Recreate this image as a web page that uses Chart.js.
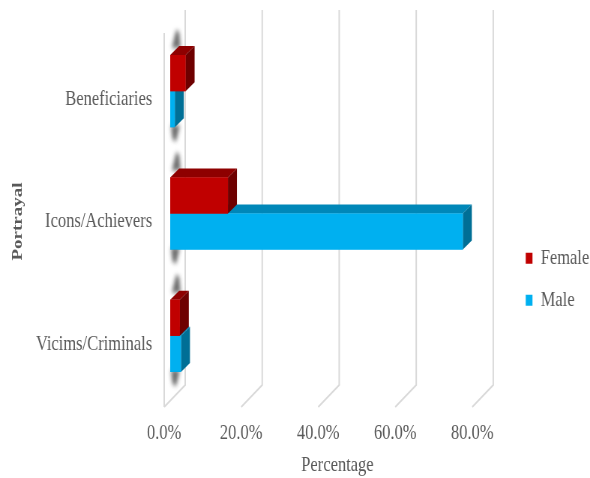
<!DOCTYPE html>
<html>
<head>
<meta charset="utf-8">
<script src="https://cdn.jsdelivr.net/npm/chart.js@4.4.1/dist/chart.umd.min.js"></script>
<style>
  html, body { margin: 0; padding: 0; background: #fff; overflow: hidden; }
  /* the original picture is squeezed sideways, so the chart is drawn wider and squeezed back */
  #wrap { width: 787px; height: 478px; transform: scaleX(0.7497); transform-origin: 0 0; }
</style>
</head>
<body>
<div id="wrap"><canvas id="portrayalChart"></canvas></div>
<script>
const categories = ['Beneficiaries', 'Icons/Achievers', 'Vicims/Criminals'];
const female = [4, 15, 2.5];
const male = [1.2, 76, 2.8];
const xTicks = [0, 20, 40, 60, 80];

const serif = "'Liberation Serif', 'Times New Roman', serif";
const grey = '#595959';

const shades = [
  { top: '#8e0000', side: '#6e0000' },   // Female
  { top: '#0087b8', side: '#006f96' }    // Male
];

const depth3d = {
  id: 'depth3d',
  beforeDatasetsDraw(chart) {
    const { ctx, chartArea: ca, scales: { x } } = chart;
    const wx = 28, wy = 22;
    const front = ca.bottom + 2;
    ctx.save();
    ctx.strokeStyle = '#d9d9d9';
    ctx.lineWidth = 2;
    xTicks.forEach(v => {
      const px = x.getPixelForValue(v);
      ctx.beginPath();
      ctx.moveTo(px, front);
      ctx.lineTo(px + wx, front - wy);
      ctx.lineTo(px + wx, ca.top - 28);
      ctx.stroke();
    });
    const p0 = x.getPixelForValue(0);
    ctx.beginPath();
    ctx.moveTo(p0, ca.top - 5);
    ctx.lineTo(p0, front);
    ctx.stroke();
    ctx.restore();
    // bars sit a little back from the front plane
    ctx.save();
    ctx.translate(8, -8);
  },
  afterDatasetDraw(chart, args) {
    const ctx = chart.ctx;
    const c = shades[args.index];
    const dx = 12, dy = 9;
    args.meta.data.forEach(bar => {
      const { x, y, base, height } = bar.getProps(['x', 'y', 'base', 'height'], true);
      const top = y - height / 2, bottom = y + height / 2;

      // soft wall shadow next to the bars
      ctx.save();
      ctx.filter = 'blur(2.5px)';
      ctx.fillStyle = 'rgba(60,60,60,0.75)';
      ctx.beginPath();
      if (args.index === 0) {
        ctx.moveTo(base + 2, top - dy + 2);
        ctx.lineTo(base + 14, top - dy + 2);
        ctx.lineTo(base + 12, top - dy - 14);
        ctx.lineTo(base + 8, top - dy - 16);
      } else {
        ctx.moveTo(base + 1, bottom - 2);
        ctx.lineTo(base + 13, bottom - 2);
        ctx.lineTo(base + 8, bottom + 14);
        ctx.lineTo(base + 3, bottom + 12);
      }
      ctx.closePath();
      ctx.fill();
      ctx.restore();

      ctx.fillStyle = c.top;
      ctx.beginPath();
      ctx.moveTo(base, top);
      ctx.lineTo(x, top);
      ctx.lineTo(x + dx, top - dy);
      ctx.lineTo(base + dx, top - dy);
      ctx.closePath();
      ctx.fill();
      ctx.fillStyle = c.side;
      ctx.beginPath();
      ctx.moveTo(x, top);
      ctx.lineTo(x + dx, top - dy);
      ctx.lineTo(x + dx, bottom - dy);
      ctx.lineTo(x, bottom);
      ctx.closePath();
      ctx.fill();
      // redraw the front face over the shadow
      ctx.fillStyle = bar.options.backgroundColor;
      ctx.fillRect(Math.min(base, x), top, Math.abs(x - base), height);
    });
  },
  afterDatasetsDraw(chart) {
    chart.ctx.restore();
  }
};

const ctx = document.getElementById('portrayalChart');

new Chart(ctx, {
  type: 'bar',
  data: {
    labels: categories,
    datasets: [{
      label: 'Female',
      data: female,
      backgroundColor: '#c00000',
      categoryPercentage: 0.59,
      barPercentage: 1
    },
    {
      label: 'Male',
      data: male,
      backgroundColor: '#00b0f0',
      categoryPercentage: 0.59,
      barPercentage: 1
    }]
  },
  plugins: [depth3d],
  options: {
    indexAxis: 'y',
    responsive: true,
    maintainAspectRatio: false,
    animation: false,
    layout: {
      padding: { top: 38, right: -9, bottom: 0, left: 0 }
    },
    plugins: {
      tooltip: { enabled: false },
      legend: {
        position: 'right',
        title: { display: true, text: ' ', padding: { top: 28, bottom: 0 }, font: { size: 12 } },
        labels: {
          boxWidth: 9,
          boxHeight: 11,
          padding: 20,
          color: grey,
          font: { family: serif, size: 22 }
        }
      }
    },
    scales: {
      x: {
        min: 0,
        max: 90,
        afterBuildTicks: s => { s.ticks = xTicks.map(v => ({ value: v })); },
        afterFit: s => { s.height = 73; },
        grid: { display: false, drawTicks: false },
        border: { display: false },
        ticks: {
          padding: 15,
          color: grey,
          font: { family: serif, size: 22 },
          callback: v => v.toFixed(1) + '%'
        },
        title: {
          display: true,
          text: 'Percentage',
          color: grey,
          padding: { top: 0, bottom: 0 },
          font: { family: serif, size: 22 }
        }
      },
      y: {
        afterFit: s => { s.width = 219; },
        grid: { display: false, drawTicks: false },
        border: { display: false },
        ticks: {
          padding: 16,
          color: grey,
          font: { family: serif, size: 22 }
        },
        title: {
          display: true,
          text: 'Portrayal',
          color: grey,
          padding: { top: 13, bottom: 0 },
          font: { family: serif, size: 19, weight: 'bold' }
        }
      }
    }
  }
});
</script>
</body>
</html>
